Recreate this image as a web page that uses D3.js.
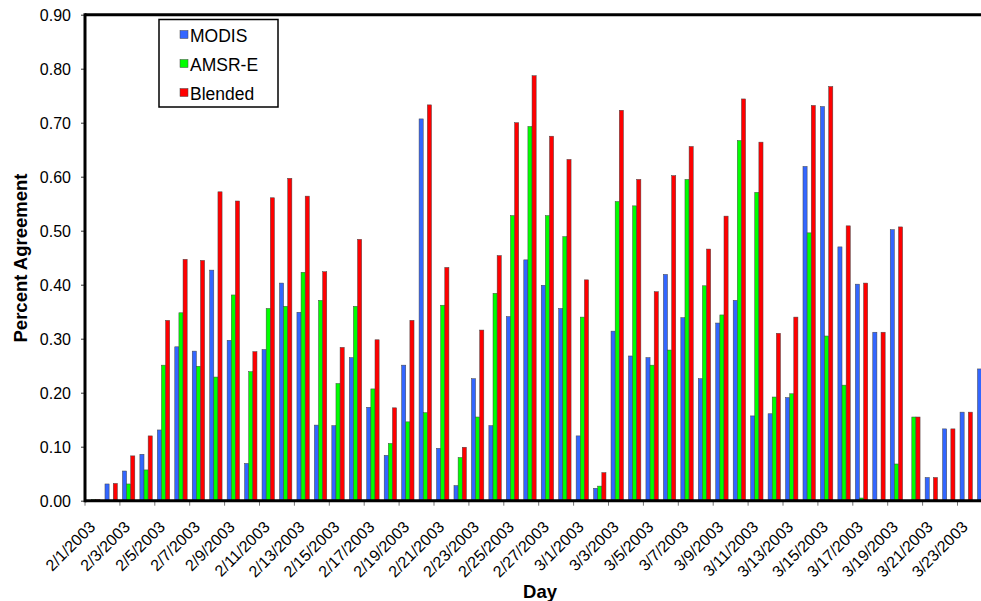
<!DOCTYPE html>
<html>
<head>
<meta charset="utf-8">
<script src="https://cdn.jsdelivr.net/npm/d3@7"></script>
<style>
  body { margin: 0; background: #fff; }
  svg { display: block; font-family: Arial, 'Liberation Sans', sans-serif; }
  .axis text { font-size: 16px; fill: #000; }
  .title { font-size: 18.5px; font-weight: bold; }
  .legend text { font-size: 17.5px; }
</style>
</head>
<body>
<svg id="chart" width="981" height="601"></svg>
<script>
// categories: one per day, 2/1/2003 .. 3/24/2003
const days = [
  '2/1/2003', '2/2/2003', '2/3/2003', '2/4/2003', '2/5/2003', '2/6/2003', '2/7/2003',
  '2/8/2003', '2/9/2003', '2/10/2003', '2/11/2003', '2/12/2003', '2/13/2003', '2/14/2003',
  '2/15/2003', '2/16/2003', '2/17/2003', '2/18/2003', '2/19/2003', '2/20/2003', '2/21/2003',
  '2/22/2003', '2/23/2003', '2/24/2003', '2/25/2003', '2/26/2003', '2/27/2003', '2/28/2003',
  '3/1/2003', '3/2/2003', '3/3/2003', '3/4/2003', '3/5/2003', '3/6/2003', '3/7/2003',
  '3/8/2003', '3/9/2003', '3/10/2003', '3/11/2003', '3/12/2003', '3/13/2003', '3/14/2003',
  '3/15/2003', '3/16/2003', '3/17/2003', '3/18/2003', '3/19/2003', '3/20/2003', '3/21/2003',
  '3/22/2003', '3/23/2003', '3/24/2003'
];

const modis = [
  0, 0.031, 0.055, 0.086, 0.131, 0.285, 0.277, 0.427, 0.297, 0.069, 0.280, 0.403, 0.349,
  0.140, 0.139, 0.265, 0.173, 0.084, 0.251, 0.707, 0.097, 0.028, 0.226, 0.139, 0.341, 0.446,
  0.399, 0.356, 0.120, 0.023, 0.314, 0.268, 0.265, 0.419, 0.339, 0.226, 0.329, 0.371, 0.157,
  0.161, 0.191, 0.619, 0.730, 0.470, 0.401, 0.312, 0.502, 0, 0.043, 0.133, 0.164, 0.244
];

const amsre = [
  0.002, 0, 0.031, 0.057, 0.251, 0.348, 0.249, 0.229, 0.381, 0.239, 0.356, 0.360, 0.423,
  0.371, 0.217, 0.360, 0.207, 0.106, 0.146, 0.163, 0.362, 0.080, 0.155, 0.384, 0.528, 0.693,
  0.528, 0.489, 0.340, 0.027, 0.554, 0.546, 0.251, 0.279, 0.595, 0.398, 0.344, 0.667, 0.571,
  0.192, 0.198, 0.496, 0.305, 0.214, 0.005, 0, 0.068, 0.155, 0, 0, 0, 0
];

const blended = [
  0.002, 0.032, 0.083, 0.120, 0.334, 0.447, 0.445, 0.572, 0.555, 0.276, 0.561, 0.597, 0.564,
  0.424, 0.284, 0.484, 0.298, 0.172, 0.334, 0.733, 0.432, 0.099, 0.316, 0.454, 0.700, 0.787,
  0.675, 0.632, 0.409, 0.052, 0.723, 0.595, 0.387, 0.602, 0.656, 0.466, 0.527, 0.744, 0.664,
  0.310, 0.340, 0.732, 0.767, 0.509, 0.403, 0.312, 0.507, 0.155, 0.043, 0.133, 0.164, 0.244
];

const seriesNames = ['MODIS', 'AMSR-E', 'Blended'];
const seriesColors = ['#3366ff', '#00ff00', '#ff0000'];
const yTicks = [0, 0.1, 0.2, 0.3, 0.4, 0.5, 0.6, 0.7, 0.8, 0.9];
const labelledDays = days.filter((d, i) => i % 2 === 0 && i <= 50);

const rows = days.map((d, i) => ({ day: d, values: [modis[i], amsre[i], blended[i]] }));

const svg = d3.select('#chart');
const plot = { left: 85, top: 14.7, bottom: 500.7, step: 17.45 };

const x = d3
  .scaleBand()
  .domain(days)
  .range([plot.left, plot.left + plot.step * days.length])
  .paddingInner(0.29)
  .paddingOuter(0.145);

const xs = d3.scaleBand().domain(seriesNames).range([0, x.bandwidth()]);

const y = d3.scaleLinear().domain([0, 0.9]).range([plot.bottom, plot.top]);

// bars
svg
  .append('g')
  .selectAll('g')
  .data(rows)
  .join('g')
  .attr('transform', d => `translate(${x(d.day)},0)`)
  .selectAll('rect')
  .data(d => d.values.map((v, i) => ({ v, i })))
  .join('rect')
  .attr('x', d => xs(seriesNames[d.i]))
  .attr('width', xs.bandwidth())
  .attr('y', d => y(d.v))
  .attr('height', d => y(0) - y(d.v))
  .attr('fill', d => seriesColors[d.i])
  .attr('stroke', '#444')
  .attr('stroke-width', 0.5);

// y axis
const gy = svg
  .append('g')
  .attr('class', 'axis')
  .attr('transform', `translate(${plot.left},0)`)
  .call(d3.axisLeft(y).tickValues(yTicks).tickSize(4).tickPadding(10).tickFormat(d3.format('.2f')));
gy.select('.domain').remove();
gy.selectAll('.tick line').attr('stroke', '#333');
gy.selectAll('.tick text').attr('dy', '0.36em');

// x axis ticks every two days, placed between categories
const gx = svg.append('g').attr('class', 'axis');
gx.selectAll('line')
  .data(labelledDays)
  .join('line')
  .attr('x1', d => x(d) - x.step() * x.paddingInner() / 2 - 0.5 * x.step() * 0 - x.step() * 0)
  .attr('x2', d => x(d) - x.step() * x.paddingInner() / 2)
  .attr('y1', plot.bottom)
  .attr('y2', plot.bottom + 5)
  .attr('stroke', '#777');
gx.selectAll('text')
  .data(labelledDays)
  .join('text')
  .attr('text-anchor', 'end')
  .attr('transform', d => `translate(${x(d) + x.bandwidth() / 2 + 2.5},528) rotate(-45)`)
  .text(d => d);

// frame
svg.append('line')
  .attr('x1', plot.left).attr('x2', 1000)
  .attr('y1', plot.top).attr('y2', plot.top)
  .attr('stroke', '#000').attr('stroke-width', 3);
svg.append('line')
  .attr('x1', plot.left).attr('x2', plot.left)
  .attr('y1', plot.top - 1.5).attr('y2', plot.bottom + 1.5)
  .attr('stroke', '#000').attr('stroke-width', 3);
svg.append('line')
  .attr('x1', plot.left).attr('x2', 1000)
  .attr('y1', plot.bottom).attr('y2', plot.bottom)
  .attr('stroke', '#000').attr('stroke-width', 3);

// titles
svg.append('text')
  .attr('class', 'title')
  .attr('text-anchor', 'middle')
  .attr('transform', 'translate(27,258) rotate(-90)')
  .text('Percent Agreement');
svg.append('text')
  .attr('class', 'title')
  .attr('text-anchor', 'middle')
  .attr('x', 540)
  .attr('y', 598)
  .text('Day');

// legend
const legend = svg.append('g').attr('class', 'legend');
legend.append('rect')
  .attr('x', 159).attr('y', 19.5)
  .attr('width', 119).attr('height', 87.5)
  .attr('fill', '#fff').attr('stroke', '#000').attr('stroke-width', 1.5);
const items = legend.selectAll('g.item')
  .data(seriesNames)
  .join('g')
  .attr('class', 'item')
  .attr('transform', (d, i) => `translate(0,${41.5 + i * 29})`);
items.append('rect')
  .attr('x', 180).attr('y', -11)
  .attr('width', 8).attr('height', 8)
  .attr('fill', (d, i) => seriesColors[i])
  .attr('stroke', '#444').attr('stroke-width', 0.5);
items.append('text')
  .attr('x', 190)
  .text(d => d);
</script>
</body>
</html>
